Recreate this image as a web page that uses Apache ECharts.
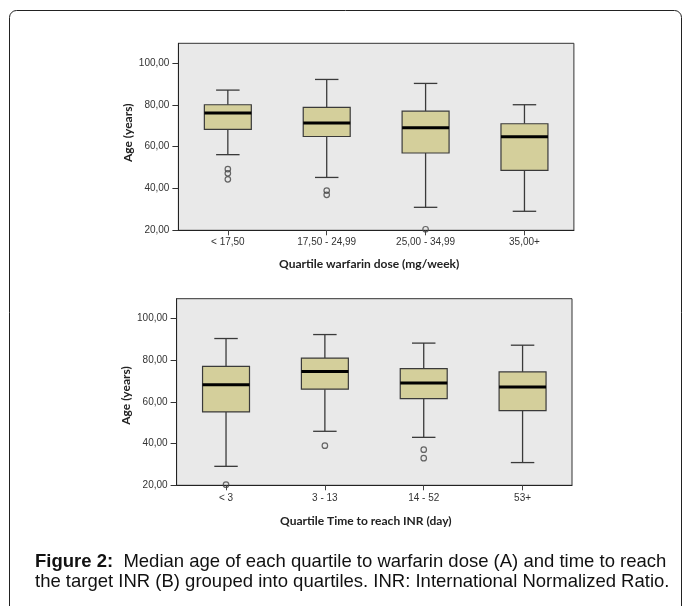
<!DOCTYPE html>
<html>
<head>
<meta charset="utf-8">
<script src="https://cdn.jsdelivr.net/npm/echarts@6/dist/echarts.min.js"></script>
<style>
html,body{margin:0;padding:0;background:#fff;}
#chart{width:683px;height:606px;}
</style>
</head>
<body>
<div id="chart"></div>
<script>
// ---- Data ----
const doseCats = ['< 17,50', '17,50 - 24,99', '25,00 - 34,99', '35,00+'];
// [whisker low, Q1, median, Q3, whisker high]
const doseBox = [
  [56.2, 68.3, 76.1, 80.1, 87.1],
  [45.3, 64.9, 71.3, 78.8, 92.2],
  [31.0, 57.0, 69.1, 77.0, 90.3],
  [29.1, 48.7, 64.8, 71.0, 80.1]
];
// [category index, value]
const doseOutliers = [[0, 49.3], [0, 47.3], [0, 44.4], [1, 39.0], [1, 37.0], [2, 20.5]];

const inrCats = ['< 3', '3 - 13', '14 - 52', '53+'];
const inrBox = [
  [29.1, 55.2, 68.2, 77.0, 90.4],
  [45.9, 66.1, 74.6, 81.0, 92.3],
  [43.0, 61.6, 69.1, 76.0, 88.2],
  [30.9, 55.8, 67.2, 74.4, 87.2]
];
const inrOutliers = [[0, 20.3], [1, 39.0], [2, 37.1], [2, 33.0]];

const yTicks = [20, 40, 60, 80, 100];

const captionBold = 'Figure 2:';
const captionLine1 = '  Median age of each quartile to warfarin dose (A) and time to reach';
const captionLine2 = 'the target INR (B) grouped into quartiles. INR: International Normalized Ratio.';

// ---- Chart ----
const chart = echarts.init(document.getElementById('chart'), null, {renderer: 'canvas'});

function boxRender(params, api) {
  const c = api.value(0);
  const lo = api.coord([c, api.value(1)]);
  const q1 = api.coord([c, api.value(2)]);
  const md = api.coord([c, api.value(3)]);
  const q3 = api.coord([c, api.value(4)]);
  const hi = api.coord([c, api.value(5)]);
  const band = api.size([1, 0])[0];
  const bw = band * 0.475;
  const cw = bw * 0.5;
  const x = lo[0];
  const ls = {stroke: '#3a3a3a', lineWidth: 1.3};
  return {
    type: 'group',
    children: [
      {type: 'line', shape: {x1: x, y1: hi[1], x2: x, y2: q3[1]}, style: ls},
      {type: 'line', shape: {x1: x, y1: q1[1], x2: x, y2: lo[1]}, style: ls},
      {type: 'line', shape: {x1: x - cw / 2, y1: hi[1], x2: x + cw / 2, y2: hi[1]}, style: ls},
      {type: 'line', shape: {x1: x - cw / 2, y1: lo[1], x2: x + cw / 2, y2: lo[1]}, style: ls},
      {type: 'rect', shape: {x: x - bw / 2, y: q3[1], width: bw, height: q1[1] - q3[1]},
        style: {fill: '#d4cf9b', stroke: '#3a3a3a', lineWidth: 1.2}},
      {type: 'line', shape: {x1: x - bw / 2, y1: md[1], x2: x + bw / 2, y2: md[1]},
        style: {stroke: '#000', lineWidth: 3}}
    ]
  };
}

function fmt(v) { return v.toFixed(2).replace('.', ','); }

function xAxisCfg(idx, cats, name, labelMargin, nameGap, padRight) {
  return {
    type: 'category', gridIndex: idx, data: cats,
    axisLine: {show: true, lineStyle: {color: '#222', width: 1}},
    axisTick: {show: true, alignWithLabel: true, length: 5, lineStyle: {color: '#444'}},
    axisLabel: {fontSize: 10, fontFamily: 'Liberation Sans', color: '#333', margin: labelMargin},
    splitLine: {show: false},
    name: name, nameLocation: 'middle', nameGap: nameGap, nameMoveOverlap: false,
    nameTextStyle: {fontFamily: 'Lato', fontWeight: 'bold', fontSize: 12, color: '#222',
      padding: [0, padRight, 0, 0]}
  };
}
function yAxisCfg(idx, pad) {
  return {
    type: 'value', gridIndex: idx, min: 20, max: 109.5,
    axisLine: {show: true, lineStyle: {color: '#222', width: 1}},
    axisTick: {show: true, length: 6, customValues: yTicks, lineStyle: {color: '#333'}},
    axisLabel: {customValues: yTicks, formatter: fmt, fontSize: 10,
      fontFamily: 'Liberation Sans', color: '#333', margin: 9},
    splitLine: {show: false},
    name: 'Age (years)', nameLocation: 'middle', nameGap: 44, nameRotate: 90, nameMoveOverlap: false,
    nameTextStyle: {fontFamily: 'Lato', fontWeight: 'bold', fontSize: 12, color: '#222', padding: pad}
  };
}

function boxData(arr) { return arr.map((b, i) => [i].concat(b)); }

const option = {
  animation: false,
  backgroundColor: '#fff',
  graphic: [
    {type: 'rect', silent: true, z: -10,
      shape: {x: 9.5, y: 10.5, width: 672, height: 640, r: [7, 7, 0, 0]},
      style: {fill: 'none', stroke: '#222', lineWidth: 1}},
    {type: 'text', left: 35, top: 552,
      style: {
        text: '{b|' + captionBold + '}' + captionLine1 + '\n' + captionLine2,
        fontSize: 18.5, fontFamily: 'Liberation Sans', fill: '#111', lineHeight: 20,
        rich: {b: {fontSize: 18.5, fontFamily: 'Liberation Sans', fontWeight: 'bold', fill: '#111', lineHeight: 20}}
      }}
  ],
  grid: [
    {left: 178.4, top: 43.3, width: 395.5, height: 187, show: true,
      backgroundColor: '#e9e9e9', borderColor: '#333', borderWidth: 1},
    {left: 176.6, top: 298.7, width: 395.4, height: 186.6, show: true,
      backgroundColor: '#e9e9e9', borderColor: '#333', borderWidth: 1}
  ],
  xAxis: [
    xAxisCfg(0, doseCats, 'Quartile warfarin dose (mg/week)', 7, 28, 14),
    xAxisCfg(1, inrCats, 'Quartile Time to reach INR (day)', 8, 30, 17)
  ],
  yAxis: [yAxisCfg(0, [0, 0, 0, 8]), yAxisCfg(1, [0, 7, 0, 0])],
  series: [
    {type: 'custom', xAxisIndex: 0, yAxisIndex: 0, renderItem: boxRender,
      encode: {x: 0, y: [1, 2, 3, 4, 5]}, data: boxData(doseBox)},
    {type: 'scatter', xAxisIndex: 0, yAxisIndex: 0, clip: false, symbol: 'circle', symbolSize: 5.5,
      itemStyle: {color: 'transparent', borderColor: '#444', borderWidth: 1.2}, data: doseOutliers, z: 5},
    {type: 'custom', xAxisIndex: 1, yAxisIndex: 1, renderItem: boxRender,
      encode: {x: 0, y: [1, 2, 3, 4, 5]}, data: boxData(inrBox)},
    {type: 'scatter', xAxisIndex: 1, yAxisIndex: 1, clip: false, symbol: 'circle', symbolSize: 5.5,
      itemStyle: {color: 'transparent', borderColor: '#444', borderWidth: 1.2}, data: inrOutliers, z: 5}
  ]
};
chart.setOption(option);
</script>
</body>
</html>
